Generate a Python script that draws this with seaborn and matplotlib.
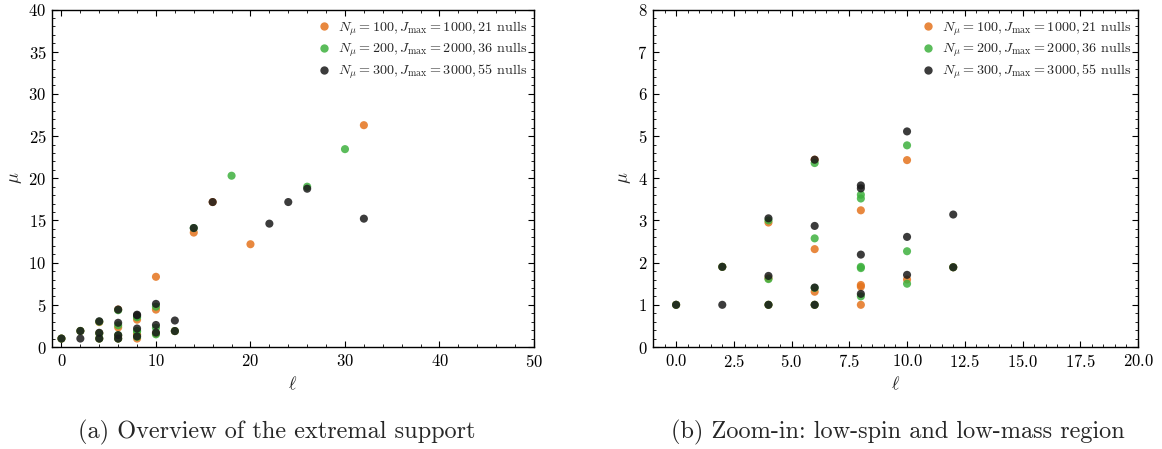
import numpy as np
import pandas as pd
import matplotlib
matplotlib.use("Agg")
import matplotlib.pyplot as plt
from matplotlib.ticker import MultipleLocator
from matplotlib.lines import Line2D
import seaborn as sns

# Extremal support (spin ell, mass mu) for three truncation settings
ell_100 = [0, 2, 4, 4, 4, 6, 6, 6, 6, 8, 8, 8, 8, 10, 10, 10, 12, 14, 16, 20, 32]
mu_100 = [1.0, 1.9, 2.95, 1.63, 1.0, 4.44, 2.32, 1.31, 1.0, 3.24, 1.47, 1.43, 1.0,
          4.43, 1.6, 8.32, 1.89, 13.56, 17.18, 12.18, 26.29]

ell_200 = [0, 2, 4, 4, 4, 6, 6, 6, 6, 8, 8, 8, 8, 8, 10, 10, 10, 12, 14, 18, 26, 30]
mu_200 = [1.0, 1.9, 3.0, 1.61, 1.0, 4.36, 2.575, 1.4, 1.0, 3.61, 3.52, 1.9, 1.87, 1.2,
          4.78, 2.27, 1.5, 1.89, 14.1, 20.3, 19.0, 23.45]

ell_300 = [0, 2, 2, 4, 4, 4, 6, 6, 6, 6, 8, 8, 8, 8, 10, 10, 10, 12, 12, 14, 16, 22,
           24, 26, 32]
mu_300 = [1.0, 1.9, 1.0, 3.05, 1.685, 1.0, 4.44, 2.87, 1.41, 1.0, 3.83, 3.76, 2.19,
          1.26, 5.11, 2.61, 1.71, 3.14, 1.89, 14.1, 17.18, 14.62, 17.18, 18.76, 15.21]

series_labels = [
    r"$N_\mu = 100, J_{\max} = 1000, 21$ nulls",
    r"$N_\mu = 200, J_{\max} = 2000, 36$ nulls",
    r"$N_\mu = 300, J_{\max} = 3000, 55$ nulls",
]
series_colors = ["#e4731d", "#3eb13e", "#1a1a1a"]

captions = [
    "(a) Overview of the extremal support",
    "(b) Zoom-in: low-spin and low-mass region",
]

df = pd.concat([
    pd.DataFrame({"ell": ell_100, "mu": mu_100, "series": series_labels[0]}),
    pd.DataFrame({"ell": ell_200, "mu": mu_200, "series": series_labels[1]}),
    pd.DataFrame({"ell": ell_300, "mu": mu_300, "series": series_labels[2]}),
], ignore_index=True)

sns.set_style("ticks")
plt.rcParams.update({
    "font.family": ["cmr10", "DejaVu Serif"],
    "mathtext.fontset": "cm",
    "axes.formatter.use_mathtext": True,
    "axes.linewidth": 1.0,
    "axes.edgecolor": "black",
    "xtick.direction": "in",
    "ytick.direction": "in",
    "xtick.top": True,
    "ytick.right": True,
    "xtick.major.size": 4,
    "ytick.major.size": 4,
    "xtick.minor.size": 2,
    "ytick.minor.size": 2,
    "xtick.major.width": 0.8,
    "ytick.major.width": 0.8,
    "xtick.minor.width": 0.6,
    "ytick.minor.width": 0.6,
    "xtick.labelsize": 12,
    "ytick.labelsize": 12,
    "xtick.major.pad": 4,
    "ytick.major.pad": 4,
    "xtick.color": "black",
    "ytick.color": "black",
})

fig = plt.figure(figsize=(11.62, 4.49), dpi=100)
ax_a = fig.add_axes([52 / 1162, 102 / 449, 482 / 1162, 337.5 / 449])
ax_b = fig.add_axes([653 / 1162, 102 / 449, 485 / 1162, 337.5 / 449])

palette = dict(zip(series_labels, series_colors))
settings = [
    (ax_a, (-1, 50), (0, 40), 10, 2, 5, 1),
    (ax_b, (-1, 20), (0, 8), 2.5, 0.5, 1, 0.2),
]

for ax, xlim, ylim, xmaj, xmin, ymaj, ymin in settings:
    sns.scatterplot(data=df, x="ell", y="mu", hue="series", palette=palette,
                    s=34, alpha=0.85, edgecolor="none", linewidth=0,
                    legend=False, ax=ax)
    ax.set_xlim(*xlim)
    ax.set_ylim(*ylim)
    ax.xaxis.set_major_locator(MultipleLocator(xmaj))
    ax.xaxis.set_minor_locator(MultipleLocator(xmin))
    ax.yaxis.set_major_locator(MultipleLocator(ymaj))
    ax.yaxis.set_minor_locator(MultipleLocator(ymin))
    ax.tick_params(which="both", top=True, right=True, direction="in")
    ax.set_xlabel(r"$\ell$", fontsize=13, labelpad=4)
    ax.set_ylabel(r"$\mu$", fontsize=13, labelpad=3)
    for side in ax.spines.values():
        side.set_visible(True)
    handles = [Line2D([], [], linestyle="none", marker="o", markersize=6,
                      markerfacecolor=c, markeredgecolor="none", alpha=0.85)
               for c in series_colors]
    ax.legend(handles, series_labels, loc="upper right", frameon=False,
              fontsize=10.2, handletextpad=0.5, handlelength=1.0,
              labelspacing=0.25, borderpad=0.25, borderaxespad=0.2,
              bbox_to_anchor=(1.0, 0.99))

fig.text(277 / 1162, 1 - 432 / 449, captions[0], ha="center", va="center",
         fontsize=17.5)
fig.text(898 / 1162, 1 - 432 / 449, captions[1], ha="center", va="center",
         fontsize=17.5)

fig.savefig("out.png", dpi=100)
